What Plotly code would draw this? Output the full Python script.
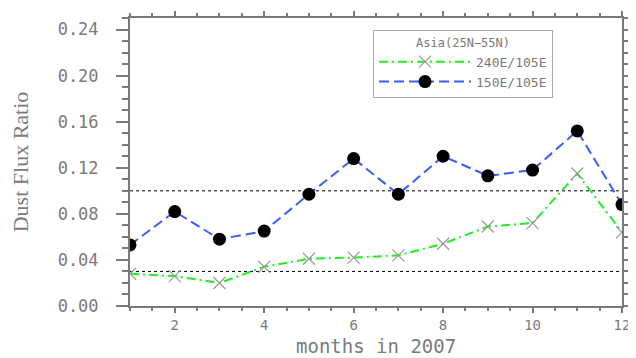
import plotly.graph_objects as go

months = [1, 2, 3, 4, 5, 6, 7, 8, 9, 10, 11, 12]
ratio_240E = [0.028, 0.026, 0.020, 0.034, 0.041, 0.042, 0.044, 0.054, 0.069, 0.072, 0.115, 0.064]
ratio_150E = [0.053, 0.082, 0.058, 0.065, 0.097, 0.128, 0.097, 0.130, 0.113, 0.118, 0.152, 0.088]
ref_levels = [0.10, 0.03]
y_ticks = [0.00, 0.04, 0.08, 0.12, 0.16, 0.20, 0.24]
x_ticks = [2, 4, 6, 8, 10, 12]

GRAY = "#7a7a7a"
MONO = "DejaVu Sans Mono"

fig = go.Figure()
fig.add_trace(go.Scatter(
    x=months, y=ratio_240E, name="240E/105E", mode="lines+markers",
    line=dict(color="#22ee22", width=2, dash="9px,4px,2px,4px"),
    marker=dict(symbol="x-thin", size=12, line=dict(color="#999999", width=1.2)),
))
fig.add_trace(go.Scatter(
    x=months, y=ratio_150E, name="150E/105E", mode="lines+markers",
    line=dict(color="#3a5cff", width=2, dash="10px,5px"),
    marker=dict(symbol="circle", size=13, color="black"),
))
for lv in ref_levels:
    fig.add_shape(type="line", xref="x", yref="y", x0=months[0], x1=months[-1], y0=lv, y1=lv,
                  line=dict(color="black", width=1, dash="3px,3px"), layer="below")

# x-axis title as an annotation at the bottom edge
fig.add_annotation(text="months in 2007", xref="paper", yref="paper", x=0.5, y=-52 / 288,
                   xanchor="center", yanchor="bottom", showarrow=False, yshift=0, borderpad=0,
                   font=dict(family=MONO, size=19, color=GRAY))

# page has an 8px body margin, so the figure is 628x350 and offset by 8px
fig.update_layout(
    width=628, height=350,
    margin=dict(l=122, r=14, t=10, b=52, autoexpand=False),
    plot_bgcolor="white", paper_bgcolor="white",
    font=dict(family=MONO, color=GRAY, size=15),
    legend=dict(
        x=0.494, y=0.958, xanchor="left", yanchor="top",
        bgcolor="white", bordercolor="#aaaaaa", borderwidth=1,
        title=dict(text="Asia(25N\u221255N)", side="top center", font=dict(family=MONO, size=12, color=GRAY)),
        font=dict(family=MONO, size=13, color=GRAY),
        itemwidth=92, tracegroupgap=0,
    ),
    xaxis=dict(
        range=[1, 12], tickvals=x_ticks, ticks="outside", ticklen=5, tickwidth=1.5,
        tickcolor=GRAY, showline=True, linecolor=GRAY, linewidth=2, mirror="ticks",
        showgrid=False, zeroline=False, automargin=False,
        tickfont=dict(family=MONO, size=14, color=GRAY),
        minor=dict(dtick=0.5, ticks="outside", ticklen=3, tickcolor=GRAY, showgrid=False),
    ),
    yaxis=dict(
        range=[0, 0.25], tickvals=y_ticks, tickformat=".2f", ticks="outside", ticklen=12, tickwidth=1.5,
        tickcolor=GRAY, showline=True, linecolor=GRAY, linewidth=2, mirror="ticks",
        showgrid=False, zeroline=False, automargin=False,
        tickfont=dict(family=MONO, size=17, color=GRAY), ticklabelstandoff=14,
        minor=dict(dtick=0.01, ticks="outside", ticklen=6, tickcolor=GRAY, showgrid=False),
        title=dict(text="Dust Flux Ratio", font=dict(family="Liberation Serif", size=22, color=GRAY), standoff=26),
    ),
)

fig.write_html("out.html")
